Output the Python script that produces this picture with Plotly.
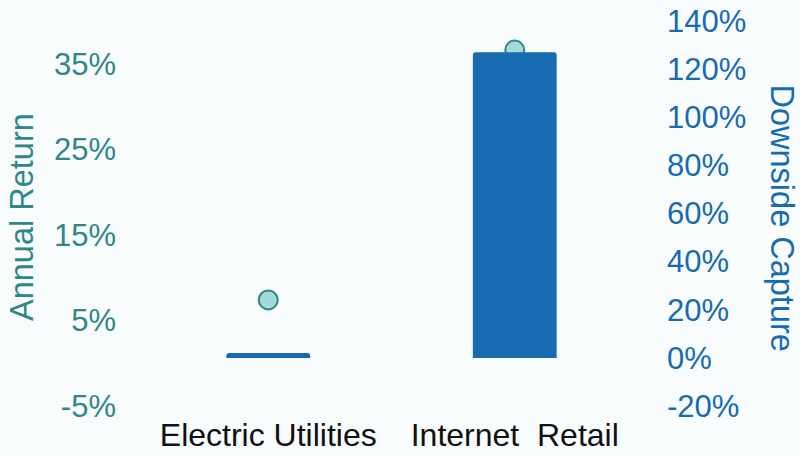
import plotly.graph_objects as go

categories = ["Electric Utilities", "Internet\u00a0\u00a0Retail"]
downside_capture = [2.0, 127.0]   # % (bars, right axis)
annual_return = [7.4, 36.6]       # % (markers, left axis)

left_ticks = [-5, 5, 15, 25, 35]
right_ticks = [-20, 0, 20, 40, 60, 80, 100, 120, 140]

TEAL = "#2f8787"
BLUE = "#176bb0"
FONT = "Liberation Sans, Arial, sans-serif"

fig = go.Figure()
fig.add_trace(go.Bar(
    x=categories, y=downside_capture, yaxis="y2", name="Downside Capture",
    marker=dict(color=BLUE, line=dict(width=0)), width=0.34,
))
fig.add_trace(go.Scatter(
    x=categories, y=annual_return, yaxis="y", mode="markers", name="Annual Return",
    marker=dict(size=19, color="#a2d9d9", line=dict(color=TEAL, width=2)),
))

fig.update_layout(
    width=800, height=456,
    margin=dict(l=145, r=162, t=21, b=50),
    paper_bgcolor="#f8fcfd", plot_bgcolor="#f8fcfd",
    showlegend=False,
    barcornerradius=3,
    font=dict(family=FONT),
    xaxis=dict(
        showgrid=False, zeroline=False, showline=False, automargin=False,
        tickfont=dict(size=32, color="#111111"),
        ticklabelstandoff=7,
    ),
    yaxis=dict(
        range=[-5, 40], tickvals=left_ticks,
        ticktext=[f"{v}%" for v in left_ticks],
        showgrid=False, zeroline=False, showline=False, automargin=False,
        tickfont=dict(size=31, color=TEAL),
        ticklabelstandoff=28,
    ),
    yaxis2=dict(
        range=[-20, 140], tickvals=right_ticks,
        ticktext=[f"{v}%" for v in right_ticks],
        overlaying="y", side="right",
        showgrid=False, zeroline=False, showline=False, automargin=False,
        tickfont=dict(size=31, color=BLUE),
        ticklabelstandoff=28,
    ),
    annotations=[
        dict(text="Annual Return", xref="paper", yref="paper", x=-(145 - 22) / 493,
             y=(406 - 217) / 385, textangle=-90, showarrow=False,
             xanchor="center", yanchor="middle",
             font=dict(size=32.5, color=TEAL)),
        dict(text="Downside Capture", xref="paper", yref="paper", x=1 + (782 - 638) / 493,
             y=(406 - 217.5) / 385, textangle=90, showarrow=False,
             xanchor="center", yanchor="middle",
             font=dict(size=32.5, color=BLUE)),
    ],
)

fig.write_html("out.html")
